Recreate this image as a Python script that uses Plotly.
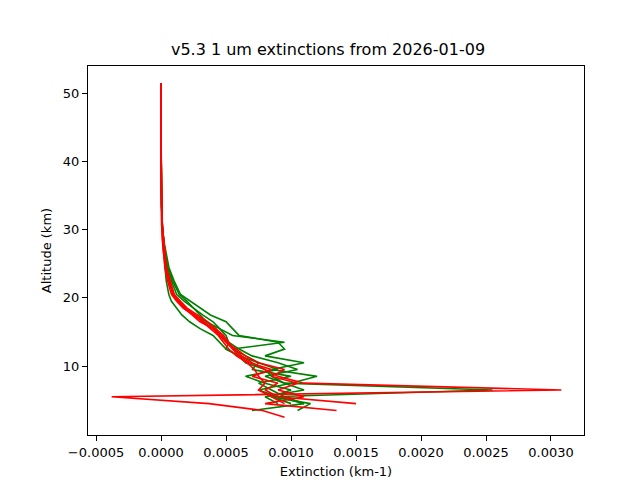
import plotly.graph_objects as go

# altitude grid (km)
alt = [2.5, 3.5, 4.5, 5.5, 6.5, 7.5, 8.5, 9.5, 10.5, 11.5, 12.5, 13.5, 14.5, 15.5,
       16.5, 17.5, 18.5, 19.5, 20.5, 22.5, 24.5, 26.5, 28.5, 30.5, 33.5, 36.5,
       40.5, 44.5, 48.5, 51.5]

# extinction profiles (km-1)
green_profiles = [
    [None, 0.00105, 0.00115, 0.00085, 0.00255, 0.00095, 0.00080, 0.00105, 0.00090, 0.00070,
     0.00060, 0.00052, 0.00050, 0.00045, 0.00040, 0.00032, 0.00025, 0.00018, 0.00012, 0.00008,
     0.00005, 0.00003, 0.00002, 0.00001, 0.000005, 0.000002, 0.000001, 0.0, 0.0, 0.0],
    [None, 0.00070, 0.00110, 0.00090, 0.00075, 0.00100, 0.00120, 0.00085, 0.00110, 0.00080,
     0.00095, 0.00090, 0.00060, 0.00055, 0.00050, 0.00038, 0.00030, 0.00022, 0.00015, 0.00010,
     0.00006, 0.00004, 0.00002, 0.00001, 0.000005, 0.000002, 0.000001, 0.0, 0.0, 0.0],
    [None, None, 0.00100, 0.00085, 0.00100, 0.00080, 0.00065, 0.00090, 0.00075, 0.00065,
     0.00055, 0.00095, 0.00055, 0.00045, 0.00035, 0.00025, 0.00018, 0.00014, 0.00010, 0.00006,
     0.00004, 0.00003, 0.00002, 0.00001, 0.000004, 0.000002, 0.000001, 0.0, 0.0, 0.0],
    [None, None, 0.00090, 0.00080, 0.00110, 0.00095, 0.00085, 0.00080, 0.00065, 0.00060,
     0.00050, 0.00045, 0.00040, 0.00030, 0.00022, 0.00016, 0.00012, 0.00008, 0.00006, 0.00004,
     0.00003, 0.00002, 0.00001, 0.000005, 0.000003, 0.000001, 0.0, 0.0, 0.0, 0.0],
    [None, None, 0.00110, 0.00095, 0.00085, 0.00075, 0.00100, 0.00070, 0.00075, 0.00060,
     0.00050, 0.00052, 0.00045, 0.00042, 0.00035, 0.00030, 0.00025, 0.00020, 0.00014, 0.00009,
     0.00005, 0.00003, 0.00002, 0.00001, 0.000005, 0.000002, 0.000001, 0.0, 0.0, 0.0],
]
red_profiles = [
    [0.00095, 0.00078, 0.00037, -0.00038, 0.00308, 0.00110, 0.00090, 0.00080, 0.00070, 0.00062,
     0.00056, 0.00052, 0.00048, 0.00042, 0.00036, 0.00028, 0.00020, 0.00015, 0.00010, 0.00007,
     0.00004, 0.00003, 0.00002, 0.00001, 0.000005, 0.000002, 0.000001, 0.0, 0.0, 0.0],
    [None, 0.00135, 0.00080, 0.00110, 0.00090, 0.00105, 0.00085, 0.00095, 0.00075, 0.00065,
     0.00058, 0.00050, 0.00047, 0.00040, 0.00033, 0.00026, 0.00019, 0.00014, 0.00010, 0.00007,
     0.00004, 0.00003, 0.00002, 0.00001, 0.000005, 0.000002, 0.000001, 0.0, 0.0, 0.0],
    [None, None, 0.00150, 0.00090, 0.00080, 0.00090, 0.00070, 0.00085, 0.00068, 0.00060,
     0.00055, 0.00050, 0.00045, 0.00040, 0.00030, 0.00024, 0.00018, 0.00013, 0.00009, 0.00006,
     0.00004, 0.00002, 0.00001, 0.00001, 0.000004, 0.000002, 0.000001, 0.0, 0.0, 0.0],
    [None, None, 0.00095, 0.00085, 0.00075, 0.00080, 0.00075, 0.00072, 0.00066, 0.00058,
     0.00052, 0.00048, 0.00044, 0.00038, 0.00032, 0.00025, 0.00017, 0.00012, 0.00008, 0.00005,
     0.00003, 0.00002, 0.00001, 0.000005, 0.000003, 0.000001, 0.0, 0.0, 0.0, 0.0],
]

fig = go.Figure()
for prof in green_profiles:
    fig.add_trace(go.Scatter(x=prof, y=alt, mode="lines",
                             line=dict(color="green", width=1.6)))
for prof in red_profiles:
    fig.add_trace(go.Scatter(x=prof, y=alt, mode="lines",
                             line=dict(color="red", width=1.6)))

axis_style = dict(showgrid=False, zeroline=False, showline=True, mirror=True,
                  linecolor="black", ticks="outside", tickcolor="black", automargin=False,
                  tickfont=dict(size=13, color="black"))
fig.update_xaxes(range=[-0.000562, 0.003254], tickvals=[-0.0005, 0, 0.0005, 0.001, 0.0015, 0.002, 0.0025, 0.003],
                 ticktext=["−0.0005", "0.0000", "0.0005", "0.0010", "0.0015", "0.0020", "0.0025", "0.0030"],
                 title=dict(text="Extinction (km-1)", font=dict(size=13, color="black"), standoff=8),
                 **axis_style)
fig.update_yaxes(range=[-0.1, 54], tickvals=[10, 20, 30, 40, 50],
                 title=dict(text="Altitude (km)", font=dict(size=13, color="black"), standoff=8),
                 **axis_style)
fig.update_layout(
    width=640, height=480,
    title=dict(text="v5.3 1 um extinctions from 2026-01-09", x=0.5, y=0.925,
               font=dict(size=16, color="black")),
    font=dict(family="DejaVu Sans"),
    showlegend=False,
    plot_bgcolor="white", paper_bgcolor="white",
    margin=dict(l=80, r=64, t=58, b=53, autoexpand=False),
)
fig.write_html("out.html")
